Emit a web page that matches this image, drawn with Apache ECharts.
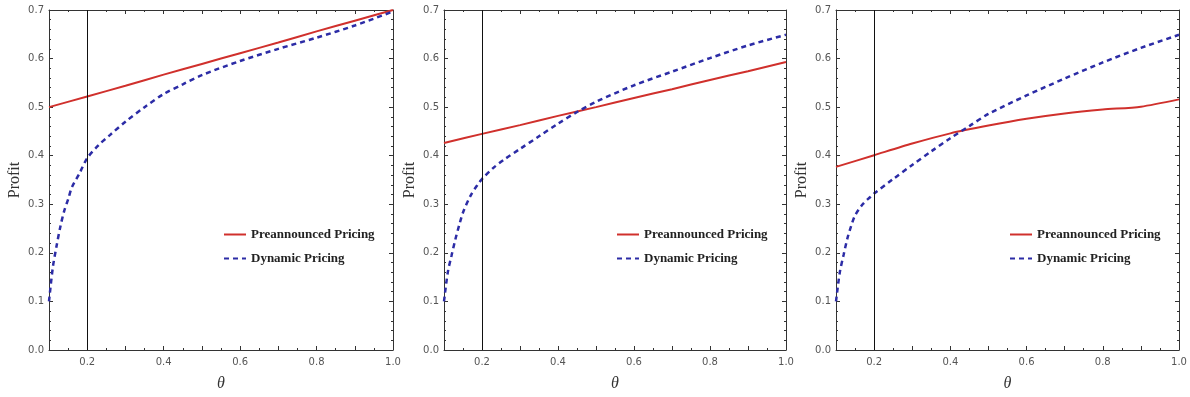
<!DOCTYPE html>
<html>
<head>
<meta charset="utf-8">
<style>
  html, body { margin: 0; padding: 0; background: #fff; }
  #chart-container { width: 1190px; height: 397px; }
</style>
<script src="https://cdn.jsdelivr.net/npm/echarts@6/dist/echarts.min.js"></script>
</head>
<body>
<div id="chart-container"></div>
<script>
// values
var thetaThreshold = 0.2;
var xTickLabels = [0.2, 0.4, 0.6, 0.8, 1.0];

var thetaPre = [0.1, 0.2, 0.3, 0.4, 0.5, 0.6, 0.7, 0.8, 0.9, 1.0];
var pre1 = [0.500, 0.522, 0.544, 0.567, 0.589, 0.611, 0.633, 0.656, 0.678, 0.700];
var pre2 = [0.426, 0.445, 0.463, 0.482, 0.500, 0.519, 0.537, 0.556, 0.574, 0.593];
var pre3 = [0.377, 0.401, 0.425, 0.446, 0.462, 0.476, 0.487, 0.495, 0.501, 0.516];

var thetaDyn1 = [0.1, 0.11, 0.12, 0.13, 0.14, 0.15, 0.16, 0.18, 0.2, 0.23, 0.26, 0.3, 0.35, 0.4, 0.45, 0.5, 0.6, 0.7, 0.8, 0.9, 1.0];
var dyn1 = [0.10, 0.17, 0.215, 0.255, 0.287, 0.31, 0.335, 0.364, 0.395, 0.422, 0.443, 0.47, 0.50, 0.527, 0.547, 0.566, 0.595, 0.62, 0.643, 0.668, 0.697];

var thetaDyn2 = [0.1, 0.11, 0.12, 0.13, 0.14, 0.15, 0.17, 0.19, 0.2, 0.23, 0.26, 0.3, 0.35, 0.4, 0.45, 0.5, 0.6, 0.7, 0.8, 0.9, 1.0];
var dyn2 = [0.10, 0.16, 0.195, 0.228, 0.257, 0.283, 0.318, 0.342, 0.352, 0.375, 0.393, 0.414, 0.44, 0.466, 0.49, 0.511, 0.545, 0.573, 0.601, 0.627, 0.649];

var thetaDyn3 = [0.1, 0.11, 0.12, 0.13, 0.14, 0.15, 0.17, 0.19, 0.2, 0.25, 0.3, 0.35, 0.4, 0.45, 0.5, 0.6, 0.7, 0.8, 0.9, 1.0];
var dyn3 = [0.10, 0.16, 0.196, 0.23, 0.256, 0.277, 0.30, 0.315, 0.322, 0.352, 0.381, 0.409, 0.436, 0.461, 0.486, 0.524, 0.559, 0.592, 0.622, 0.649];

var panels = [
    { left: 49, width: 344, legendLeft: 218, pre: pre1, thetaDyn: thetaDyn1, dyn: dyn1 },
    { left: 444, width: 342, legendLeft: 611, pre: pre2, thetaDyn: thetaDyn2, dyn: dyn2 },
    { left: 836, width: 343, legendLeft: 1004, pre: pre3, thetaDyn: thetaDyn3, dyn: dyn3 }
];

var RED = '#d0302c';
var BLUE = '#2c2ca6';
var FRAME = '#333';

function zip(xs, ys) {
    return xs.map(function (x, i) { return [x, ys[i]]; });
}

var dom = document.getElementById('chart-container');
var myChart = echarts.init(dom, null, { renderer: 'canvas' });

var grids = [], xAxes = [], yAxes = [], series = [], legends = [];

panels.forEach(function (p, i) {
    grids.push({ left: p.left, width: p.width, top: 10, height: 343 });

    var xBase = {
        gridIndex: i, type: 'value', min: 0.1, max: 1.0, interval: 0.1,
        axisLine: { show: true, onZero: false, lineStyle: { color: FRAME, width: 1 } },
        axisTick: { show: true, inside: true, length: 4, lineStyle: { color: FRAME } },
        minorTick: { show: true, splitNumber: 2, length: 2, lineStyle: { color: FRAME } },
        splitLine: { show: false }
    };
    xAxes.push(Object.assign({}, xBase, {
        position: 'bottom',
        name: 'θ', nameLocation: 'middle', nameGap: 26,
        nameTextStyle: { fontFamily: 'Liberation Serif', fontStyle: 'italic', fontSize: 16, color: '#333' },
        axisLabel: {
            margin: 7, fontSize: 10, color: '#555', fontFamily: 'DejaVu Sans',
            formatter: function (v) {
                var r = Math.round(v * 10) / 10;
                return xTickLabels.indexOf(r) >= 0 ? r.toFixed(1) : '';
            }
        }
    }));
    xAxes.push(Object.assign({}, xBase, { position: 'top', axisLabel: { show: false } }));

    var yBase = {
        gridIndex: i, type: 'value', min: 0, max: 0.7, interval: 0.1,
        axisLine: { show: true, onZero: false, lineStyle: { color: FRAME, width: 1 } },
        axisTick: { show: true, inside: true, length: 4, lineStyle: { color: FRAME } },
        minorTick: { show: true, splitNumber: 5, length: 2, lineStyle: { color: FRAME } },
        splitLine: { show: false }
    };
    yAxes.push(Object.assign({}, yBase, {
        position: 'left',
        name: 'Profit', nameLocation: 'middle', nameGap: 26,
        nameTextStyle: { fontFamily: 'Liberation Serif', fontSize: 16, color: '#333' },
        axisLabel: {
            margin: 5, fontSize: 10, color: '#555', fontFamily: 'DejaVu Sans',
            formatter: function (v) { return v.toFixed(1); }
        }
    }));
    yAxes.push(Object.assign({}, yBase, { position: 'right', axisLabel: { show: false } }));

    series.push({
        name: 'Preannounced Pricing', type: 'line',
        xAxisIndex: 2 * i, yAxisIndex: 2 * i,
        data: zip(thetaPre, p.pre),
        smooth: 0.25, showSymbol: false, symbol: 'none',
        lineStyle: { color: RED, width: 2 }, itemStyle: { color: RED },
        markLine: {
            silent: true, symbol: 'none', animation: false,
            label: { show: false },
            lineStyle: { color: '#111', width: 1, type: 'solid' },
            data: [{ xAxis: thetaThreshold }]
        }
    });
    series.push({
        name: 'Dynamic Pricing', type: 'line',
        xAxisIndex: 2 * i, yAxisIndex: 2 * i,
        data: zip(p.thetaDyn, p.dyn),
        smooth: 0.3, showSymbol: false, symbol: 'none',
        lineStyle: { color: BLUE, width: 2.5, type: [5, 4] }, itemStyle: { color: BLUE }
    });

    legends.push({
        orient: 'vertical', left: p.legendLeft, top: 223,
        itemWidth: 22, itemHeight: 12, itemGap: 11,
        itemStyle: { opacity: 0 },
        textStyle: { fontFamily: 'Liberation Serif', fontWeight: 'bold', fontSize: 13, color: '#222' },
        data: ['Preannounced Pricing', 'Dynamic Pricing']
    });
});

var option = {
    animation: false,
    backgroundColor: '#fff',
    grid: grids,
    xAxis: xAxes,
    yAxis: yAxes,
    legend: legends,
    series: series
};

myChart.setOption(option);
window.addEventListener('resize', myChart.resize);
</script>
</body>
</html>
